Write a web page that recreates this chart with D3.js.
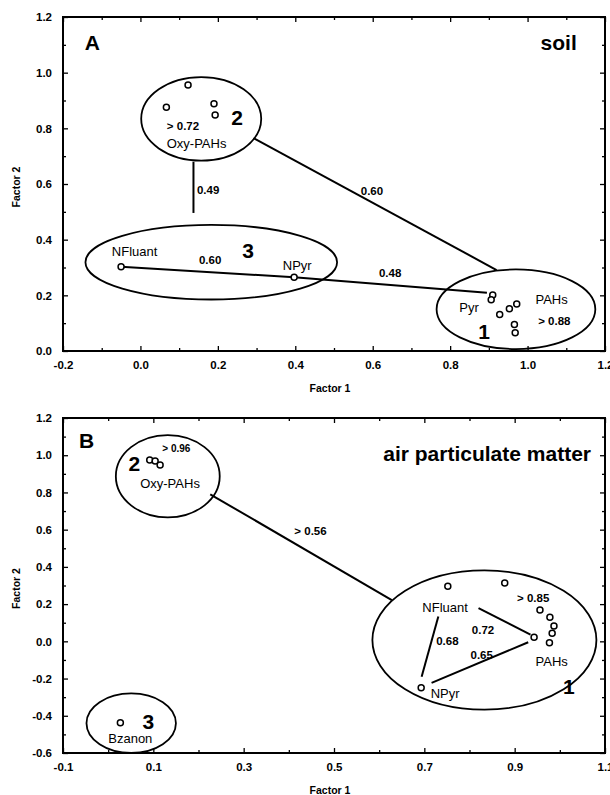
<!DOCTYPE html>
<html><head><meta charset="utf-8">
<script src="https://cdn.jsdelivr.net/npm/d3@7"></script>
<style>body{margin:0;background:#fff} svg{display:block} text{font-family:"Liberation Sans",Arial,sans-serif;fill:#000}</style>
</head><body><svg id="c" width="610" height="795"></svg>
<script>
// ---------------- Panel A : soil ----------------
const soilXMajor = [-0.2, 0.0, 0.2, 0.4, 0.6, 0.8, 1.0, 1.2];
const soilYMajor = [0.0, 0.2, 0.4, 0.6, 0.8, 1.0, 1.2];
const soilPointF1 = [0.067, 0.123, 0.190, 0.193, -0.050, 0.397, 0.910, 0.906, 0.928, 0.953, 0.972, 0.966, 0.968];
const soilPointF2 = [0.876, 0.956, 0.888, 0.848, 0.303, 0.265, 0.201, 0.184, 0.131, 0.152, 0.169, 0.095, 0.066];
const soilClusterF1 = [0.157, 0.183, 0.970];
const soilClusterF2 = [0.834, 0.319, 0.150];
const soilClusterR1 = [0.155, 0.325, 0.205];
const soilClusterR2 = [0.150, 0.134, 0.143];
const soilLinkFromF1 = [0.137, 0.292, -0.050, 0.397];
const soilLinkFromF2 = [0.680, 0.765, 0.303, 0.265];
const soilLinkToF1 = [0.137, 0.920, 0.397, 0.895];
const soilLinkToF2 = [0.496, 0.291, 0.265, 0.209];
const soilText = ["NFluant", "NPyr", "Pyr", "PAHs", "Oxy-PAHs", "> 0.72", "0.49", "0.60", "0.60", "0.48", "> 0.88", "2", "3", "1", "A", "soil"];
const soilTextKind = ["name", "name", "name", "name", "name", "value", "value", "value", "value", "value", "value", "group", "group", "group", "panel", "title"];
const soilTextF1 = [-0.015, 0.405, 0.849, 1.062, 0.145, 0.110, 0.175, 0.598, 0.180, 0.645, 1.069, 0.250, 0.278, 0.888, -0.124, 1.127];
const soilTextF2 = [0.357, 0.309, 0.158, 0.187, 0.747, 0.810, 0.578, 0.575, 0.327, 0.281, 0.109, 0.840, 0.363, 0.069, 1.109, 1.110];

// ---------------- Panel B : air particulate matter ----------------
const airXMajor = [-0.1, 0.1, 0.3, 0.5, 0.7, 0.9, 1.1];
const airYMajor = [-0.6, -0.4, -0.2, 0.0, 0.2, 0.4, 0.6, 0.8, 1.0, 1.2];
const airPointF1 = [0.092, 0.104, 0.115, 0.027, 0.693, 0.752, 0.878, 0.956, 0.978, 0.987, 0.983, 0.977, 0.943];
const airPointF2 = [0.974, 0.969, 0.947, -0.437, -0.250, 0.296, 0.313, 0.168, 0.129, 0.083, 0.044, -0.007, 0.022];
const airClusterF1 = [0.132, 0.833, 0.051];
const airClusterF2 = [0.887, 0.007, -0.440];
const airClusterR1 = [0.115, 0.248, 0.099];
const airClusterR2 = [0.221, 0.374, 0.160];
const airLinkFromF1 = [0.226, 0.820, 0.731, 0.716];
const airLinkFromF2 = [0.790, 0.179, 0.134, -0.223];
const airLinkToF1 = [0.628, 0.935, 0.694, 0.930];
const airLinkToF2 = [0.222, 0.036, -0.190, -0.005];
const airText = ["Oxy-PAHs", "NFluant", "NPyr", "PAHs", "Bzanon", "> 0.96", "> 0.56", "> 0.85", "0.72", "0.68", "0.65", "2", "1", "3", "B", "air particulate matter"];
const airTextKind = ["name", "name", "name", "name", "name", "small", "value", "value", "value", "value", "value", "group", "group", "group", "panel", "title"];
const airTextF1 = [0.137, 0.746, 0.746, 0.982, 0.049, 0.151, 0.448, 0.941, 0.830, 0.751, 0.827, 0.058, 1.020, 0.089, -0.048, 1.069];
const airTextF2 = [0.849, 0.184, -0.277, -0.107, -0.520, 1.035, 0.593, 0.233, 0.060, 0.005, -0.071, 0.956, -0.240, -0.430, 1.082, 1.007];

const axisTitleX = "Factor 1", axisTitleY = "Factor 2";

const svg = d3.select("#c");
const fmt = d => d.toFixed(1);
const styles = {
  name:  {size: 13, weight: "normal", anchor: "middle"},
  value: {size: 11.5, weight: "bold", anchor: "middle"},
  small: {size: 10, weight: "bold", anchor: "middle"},
  group: {size: 21, weight: "bold", anchor: "middle"},
  panel: {size: 21, weight: "bold", anchor: "middle"},
  title: {size: 21, weight: "bold", anchor: "end"}
};

function minorOf(major, step) {
  const out = [];
  const lo = d3.min(major), hi = d3.max(major);
  for (let i = 0; lo + i * step <= hi + 1e-9; i++) out.push(+(lo + i * step).toFixed(3));
  return out.filter(v => !major.some(m => Math.abs(m - v) < 1e-6));
}

function panel(cfg) {
  const x = d3.scaleLinear([d3.min(cfg.xMajor), d3.max(cfg.xMajor)], [63, 605]);
  const y = d3.scaleLinear([d3.min(cfg.yMajor), d3.max(cfg.yMajor)], [cfg.bottom, cfg.top]);
  const g = svg.append("g");
  const xMinor = minorOf(cfg.xMajor, 0.1), yMinor = minorOf(cfg.yMajor, 0.1);

  const styleAxis = sel => { sel.select(".domain").remove(); sel.selectAll("line").attr("stroke", "#000").attr("stroke-width", 1.3); };

  // bottom
  g.append("g").attr("transform", `translate(0,${cfg.bottom})`)
    .call(d3.axisBottom(x).tickValues(cfg.xMajor).tickSizeInner(-5).tickSizeOuter(0).tickPadding(10).tickFormat(fmt))
    .call(styleAxis)
    .selectAll("text").attr("font-size", 11.5).attr("font-weight", "bold").attr("font-family", '"Liberation Sans",Arial,sans-serif');
  g.append("g").attr("transform", `translate(0,${cfg.bottom})`)
    .call(d3.axisBottom(x).tickValues(xMinor).tickSizeInner(-3).tickSizeOuter(0).tickFormat(""))
    .call(styleAxis);
  // top
  g.append("g").attr("transform", `translate(0,${cfg.top})`)
    .call(d3.axisTop(x).tickValues(cfg.xMajor).tickSizeInner(-5).tickSizeOuter(0).tickFormat(""))
    .call(styleAxis);
  g.append("g").attr("transform", `translate(0,${cfg.top})`)
    .call(d3.axisTop(x).tickValues(xMinor).tickSizeInner(-3).tickSizeOuter(0).tickFormat(""))
    .call(styleAxis);
  // left
  g.append("g").attr("transform", `translate(63,0)`)
    .call(d3.axisLeft(y).tickValues(cfg.yMajor).tickSizeInner(-5).tickSizeOuter(0).tickPadding(11).tickFormat(fmt))
    .call(styleAxis)
    .selectAll("text").attr("font-size", 11.5).attr("font-weight", "bold").attr("font-family", '"Liberation Sans",Arial,sans-serif');
  g.append("g").attr("transform", `translate(63,0)`)
    .call(d3.axisLeft(y).tickValues(yMinor).tickSizeInner(-3).tickSizeOuter(0).tickFormat(""))
    .call(styleAxis);
  // right
  g.append("g").attr("transform", `translate(605,0)`)
    .call(d3.axisRight(y).tickValues(cfg.yMajor).tickSizeInner(-5).tickSizeOuter(0).tickFormat(""))
    .call(styleAxis);
  g.append("g").attr("transform", `translate(605,0)`)
    .call(d3.axisRight(y).tickValues(yMinor).tickSizeInner(-3).tickSizeOuter(0).tickFormat(""))
    .call(styleAxis);

  // frame
  g.append("rect").attr("x", 63).attr("y", cfg.top).attr("width", 542).attr("height", cfg.bottom - cfg.top)
    .attr("fill", "none").attr("stroke", "#000").attr("stroke-width", 2);

  // axis titles
  g.append("text").attr("x", 330).attr("y", cfg.bottom + 41).attr("text-anchor", "middle")
    .attr("font-size", 10.5).attr("font-weight", "bold").text(axisTitleX);
  g.append("text").attr("transform", `translate(20,${(cfg.top + cfg.bottom) / 2 + 3}) rotate(-90)`)
    .attr("text-anchor", "middle").attr("font-size", 10.5).attr("font-weight", "bold").text(axisTitleY);

  // cluster ellipses
  const ell = cfg.cF1.map((c, i) => ({cx: c, cy: cfg.cF2[i], rx: cfg.cR1[i], ry: cfg.cR2[i]}));
  g.selectAll("ellipse").data(ell).join("ellipse")
    .attr("cx", d => x(d.cx)).attr("cy", d => y(d.cy))
    .attr("rx", d => x(d.cx + d.rx) - x(d.cx)).attr("ry", d => y(d.cy) - y(d.cy + d.ry))
    .attr("fill", "none").attr("stroke", "#000").attr("stroke-width", 1.8);

  // links
  const links = cfg.lF1a.map((v, i) => ({x1: v, y1: cfg.lF2a[i], x2: cfg.lF1b[i], y2: cfg.lF2b[i]}));
  g.selectAll("line.link").data(links).join("line").attr("class", "link")
    .attr("x1", d => x(d.x1)).attr("y1", d => y(d.y1)).attr("x2", d => x(d.x2)).attr("y2", d => y(d.y2))
    .attr("stroke", "#000").attr("stroke-width", 2);

  // points
  const pts = cfg.pF1.map((v, i) => ({x: v, y: cfg.pF2[i]}));
  g.selectAll("circle").data(pts).join("circle")
    .attr("cx", d => x(d.x)).attr("cy", d => y(d.y)).attr("r", 3)
    .attr("fill", "#fff").attr("stroke", "#000").attr("stroke-width", 1.5);

  // labels
  const labs = cfg.text.map((t, i) => ({t, k: cfg.kind[i], x: cfg.tF1[i], y: cfg.tF2[i]}));
  g.selectAll("text.lab").data(labs).join("text").attr("class", "lab")
    .attr("x", d => x(d.x)).attr("y", d => y(d.y)).attr("dy", "0.36em")
    .attr("text-anchor", d => styles[d.k].anchor)
    .attr("font-size", d => styles[d.k].size).attr("font-weight", d => styles[d.k].weight)
    .text(d => d.t);
}

panel({top: 17, bottom: 351, xMajor: soilXMajor, yMajor: soilYMajor,
  pF1: soilPointF1, pF2: soilPointF2, cF1: soilClusterF1, cF2: soilClusterF2, cR1: soilClusterR1, cR2: soilClusterR2,
  lF1a: soilLinkFromF1, lF2a: soilLinkFromF2, lF1b: soilLinkToF1, lF2b: soilLinkToF2,
  text: soilText, kind: soilTextKind, tF1: soilTextF1, tF2: soilTextF2});
panel({top: 418, bottom: 753, xMajor: airXMajor, yMajor: airYMajor,
  pF1: airPointF1, pF2: airPointF2, cF1: airClusterF1, cF2: airClusterF2, cR1: airClusterR1, cR2: airClusterR2,
  lF1a: airLinkFromF1, lF2a: airLinkFromF2, lF1b: airLinkToF1, lF2b: airLinkToF2,
  text: airText, kind: airTextKind, tF1: airTextF1, tF2: airTextF2});
</script></body></html>
